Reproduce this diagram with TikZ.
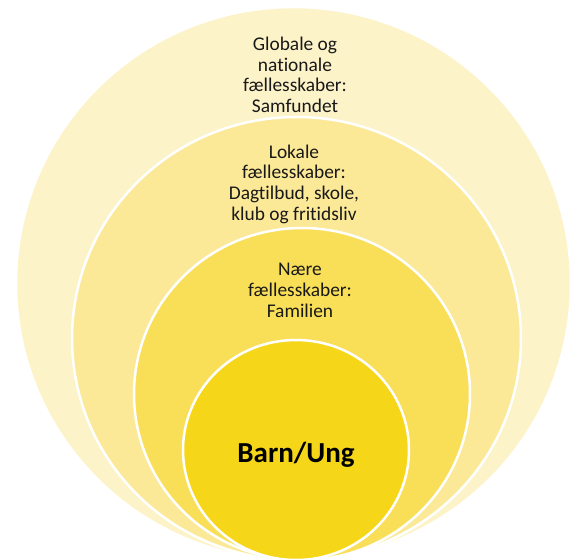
\documentclass[tikz,border=0pt]{standalone}
\usepackage{fontspec}
\setmainfont{Carlito}[Ligatures=NoCommon]
\usetikzlibrary{shapes.geometric}
\definecolor{ringglobal}{HTML}{FDF3C8}
\definecolor{ringlocal}{HTML}{FBE997}
\definecolor{ringnear}{HTML}{F9DF57}
\definecolor{ringchild}{HTML}{F6D619}
\tikzset{
  ring/.style={ellipse,draw=white,line width=2.5pt,inner sep=0pt},
  ringtext/.style={align=center,inner sep=0pt,text=black!90,
    font=\fontsize{19.4}{20.6}\selectfont}
}
\begin{document}
\begin{tikzpicture}[x=1pt,y=-1pt]
    \useasboundingbox (0,0) rectangle (574,560);
    \node[ring,fill=ringglobal,minimum width=555pt,minimum height=553pt] (global) at (293.5,283.5) {};
    \node[ring,fill=ringlocal,minimum width=449pt,minimum height=443pt] (local) at (296.5,338.5) {};
    \node[ring,fill=ringnear,minimum width=336pt,minimum height=332pt] (near) at (302,394) {};
    \node[ring,fill=ringchild,minimum width=226pt,minimum height=220pt] (child) at (296,450) {};
    % anchor=base sits on the last line
    \node[ringtext,anchor=base] (globaltxt) at (295,112.5) {Globale og\\nationale\\fællesskaber:\\Samfundet};
    \node[ringtext,anchor=base] (localtxt) at (294,220) {Lokale\\fællesskaber:\\Dagtilbud, skole,\\klub og fritidsliv};
    \node[ringtext,anchor=base] (neartxt) at (300,317) {Nære\\fællesskaber:\\Familien};
    \node[anchor=base,inner sep=0pt,text=black,font=\fontsize{29}{34}\selectfont\bfseries] (childtxt) at (296,462) {Barn/Ung};
\end{tikzpicture}
\end{document}
